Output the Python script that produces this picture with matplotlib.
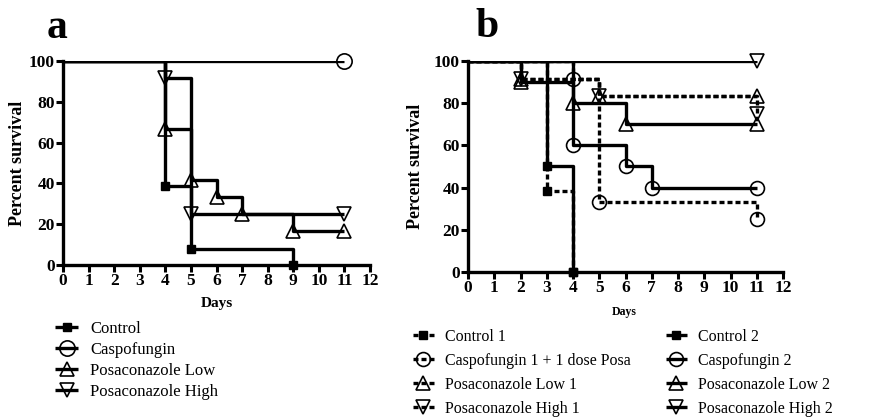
import numpy as np
import matplotlib.pyplot as plt
from matplotlib.legend_handler import HandlerTuple

plt.rcParams['font.family'] = ['Liberation Serif', 'DejaVu Serif']

W, H = 876, 419

# ---- panel a data (days, percent survival after each step, days with a symbol)
a_ctrl_days = [0, 4, 5, 9]
a_ctrl_surv = [100, 38.5, 7.7, 0]
a_ctrl_marks = [4, 5, 9]

a_caspo_days = [0, 11]
a_caspo_surv = [100, 100]
a_caspo_marks = [11]

a_low_days = [0, 4, 5, 6, 7, 9, 11]
a_low_surv = [100, 66.7, 41.7, 33.3, 25, 16.7, 16.7]
a_low_marks = [4, 5, 6, 7, 9, 11]

a_high_days = [0, 4, 5, 11]
a_high_surv = [100, 91.7, 25, 25]
a_high_marks = [4, 5, 11]

a_labels = ['Control', 'Caspofungin', 'Posaconazole Low', 'Posaconazole High']

# ---- panel b data
b_ctrl1_days = [0, 3, 4]
b_ctrl1_surv = [100, 38.5, 0]
b_ctrl1_marks = [3, 4]

b_caspo1_days = [0, 4, 5, 11]
b_caspo1_surv = [100, 91.7, 33.3, 25]
b_caspo1_marks = [4, 5, 11]

b_low1_days = [0, 2, 5, 11]
b_low1_surv = [100, 91.7, 83.3, 83.3]
b_low1_marks = [2, 5, 11]

b_high1_days = [0, 2, 5, 11]
b_high1_surv = [100, 91.7, 83.3, 75]
b_high1_marks = [2, 5, 11]

b_ctrl2_days = [0, 3, 4]
b_ctrl2_surv = [100, 50, 0]
b_ctrl2_marks = [3, 4]

b_caspo2_days = [0, 4, 6, 7, 11]
b_caspo2_surv = [100, 60, 50, 40, 40]
b_caspo2_marks = [4, 6, 7, 11]

b_low2_days = [0, 2, 4, 6, 11]
b_low2_surv = [100, 90, 80, 70, 70]
b_low2_marks = [2, 4, 6, 11]

b_high2_days = [0, 11]
b_high2_surv = [100, 100]
b_high2_marks = [11]

b_labels = ['Control 1', 'Caspofungin 1 + 1 dose Posa', 'Posaconazole Low 1',
            'Posaconazole High 1', 'Control 2', 'Caspofungin 2',
            'Posaconazole Low 2', 'Posaconazole High 2']

LW = 2.4
DASH = (0, (1.5, 0.9))


def km(ax, days, surv, marks, marker, ls='-', ms=10):
    days = np.asarray(days, float)
    surv = np.asarray(surv, float)
    line, = ax.plot(days, surv, drawstyle='steps-post', color='black', lw=LW,
                    ls=ls, solid_capstyle='butt')
    idx = np.searchsorted(days, marks, side='right') - 1
    if marker == 's':
        pts, = ax.plot(marks, surv[idx], ls='none', marker='s', ms=6,
                       color='black', clip_on=False, zorder=4)
    else:
        pts, = ax.plot(marks, surv[idx], ls='none', marker=marker, ms=ms,
                       mfc='none', mec='black', mew=1.2, clip_on=False, zorder=4)
    return (line, pts)


def style(ax):
    for s in ['top', 'right']:
        ax.spines[s].set_visible(False)
    for s in ['left', 'bottom']:
        ax.spines[s].set_linewidth(2.4)
    ax.set_xlim(0, 12)
    ax.set_ylim(0, 100)
    ax.set_xticks(range(13))
    ax.set_yticks(range(0, 101, 20))
    ax.tick_params(direction='out', length=5, width=2.2, labelsize=12.5, pad=1)
    for lab in ax.get_xticklabels() + ax.get_yticklabels():
        lab.set_fontweight('bold')


fig = plt.figure(figsize=(W / 100, H / 100), dpi=100)

ax_a = fig.add_axes([63 / W, 1 - 265 / H, 307 / W, 204 / H])
ax_b = fig.add_axes([468 / W, 1 - 272 / H, 315 / W, 211 / H])

ha = [
    km(ax_a, a_ctrl_days, a_ctrl_surv, a_ctrl_marks, 's'),
    km(ax_a, a_caspo_days, a_caspo_surv, a_caspo_marks, 'o', ms=11),
    km(ax_a, a_low_days, a_low_surv, a_low_marks, '^'),
    km(ax_a, a_high_days, a_high_surv, a_high_marks, 'v'),
]
style(ax_a)

hb = [
    km(ax_b, b_ctrl1_days, b_ctrl1_surv, b_ctrl1_marks, 's', DASH),
    km(ax_b, b_caspo1_days, b_caspo1_surv, b_caspo1_marks, 'o', DASH),
    km(ax_b, b_low1_days, b_low1_surv, b_low1_marks, '^', DASH),
    km(ax_b, b_high1_days, b_high1_surv, b_high1_marks, 'v', DASH),
    km(ax_b, b_ctrl2_days, b_ctrl2_surv, b_ctrl2_marks, 's'),
    km(ax_b, b_caspo2_days, b_caspo2_surv, b_caspo2_marks, 'o'),
    km(ax_b, b_low2_days, b_low2_surv, b_low2_marks, '^'),
    km(ax_b, b_high2_days, b_high2_surv, b_high2_marks, 'v'),
]
style(ax_b)

# panel letters, axis titles
fig.text(57 / W, 1 - 38 / H, 'a', fontsize=30, fontweight='bold', ha='center', va='baseline')
fig.text(487 / W, 1 - 37 / H, 'b', fontsize=30, fontweight='bold', ha='center', va='baseline')
fig.text(18 / W, 1 - 163 / H, 'Percent survival', fontsize=13, fontweight='bold',
         rotation=90, ha='center', va='center')
fig.text(416 / W, 1 - 166 / H, 'Percent survival', fontsize=13, fontweight='bold',
         rotation=90, ha='center', va='center')
fig.text(217 / W, 1 - 304 / H, 'Days', fontsize=11, fontweight='bold', ha='center', va='center')
fig.text(624 / W, 1 - 312 / H, 'Days', fontsize=8.5, fontweight='bold', ha='center', va='center')

fig.legend(ha, a_labels, loc='upper left', bbox_to_anchor=(55 / W, 1 - 321 / H),
           frameon=False, borderpad=0, borderaxespad=0, fontsize=12,
           handlelength=1.4, handletextpad=0.7, labelspacing=0.3,
           handler_map={tuple: HandlerTuple(ndivide=1)})
fig.legend(hb, b_labels, loc='upper left', bbox_to_anchor=(413 / W, 1 - 329 / H),
           ncol=2, frameon=False, borderpad=0, borderaxespad=0, fontsize=11.5,
           handlelength=1.3, handletextpad=0.7, labelspacing=0.5, columnspacing=2.2,
           handler_map={tuple: HandlerTuple(ndivide=1)})

fig.savefig('out.png', dpi=100)
